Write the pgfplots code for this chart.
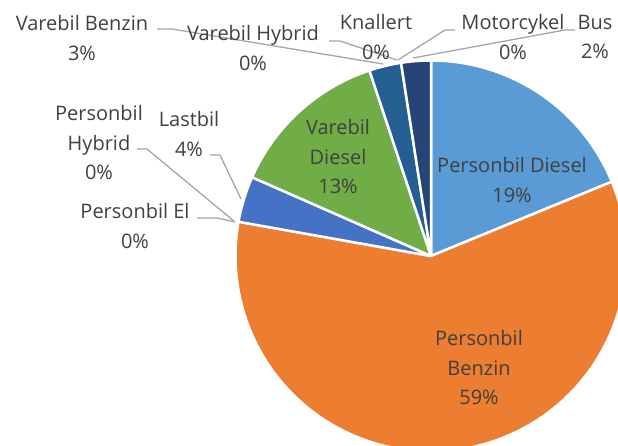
\documentclass[border=0pt]{standalone}
\usepackage{pgfplots}
\usepackage{pgfplotstable}
\pgfplotsset{compat=1.18}
\usepackage{fontspec}
\setmainfont{Open Sans}
\definecolor{cPD}{HTML}{5B9BD5}
\definecolor{cPB}{HTML}{ED7D31}
\definecolor{cPE}{HTML}{A5A5A5}
\definecolor{cPH}{HTML}{FFC000}
\definecolor{cL}{HTML}{4472C4}
\definecolor{cVD}{HTML}{70AD47}
\definecolor{cVB}{HTML}{255E91}
\definecolor{cVH}{HTML}{9E480E}
\definecolor{cK}{HTML}{636363}
\definecolor{cM}{HTML}{997300}
\definecolor{cBus}{HTML}{264478}
\definecolor{txt}{HTML}{404040}
\definecolor{leader}{HTML}{A6A6A6}
\tikzset{lbl/.style={align=center, inner sep=0pt, text=txt,
    font=\fontsize{20}{29.5}\selectfont}}

\pgfplotstableread[col sep=comma]{
label,value,color
Personbil Diesel,18.8,cPD
Personbil Benzin,59.0,cPB
Personbil El,0,cPE
Personbil Hybrid,0,cPH
Lastbil,3.8,cL
Varebil Diesel,13.3,cVD
Varebil Benzin,2.65,cVB
Varebil Hybrid,0,cVH
Knallert,0,cK
Motorcykel,0,cM
Bus,2.45,cBus
}\piedata

\begin{document}
\begin{tikzpicture}
\begin{axis}[
  x=1pt, y=1pt,
  xmin=0, xmax=618, ymin=0, ymax=446,
  hide axis, clip=false,
  anchor=south west, at={(0,0)},
]
\pgfplotsextra{
  \begin{scope}
  \clip (axis cs:0,0) rectangle (axis cs:618,446);
  \gdef\cum{0}
  \foreach \i in {0,...,10}{
    \pgfplotstablegetelem{\i}{value}\of\piedata \let\v\pgfplotsretval
    \pgfplotstablegetelem{\i}{color}\of\piedata \let\col\pgfplotsretval
    \pgfmathsetmacro\a{90-3.6*\cum}
    \pgfmathsetmacro\b{90-3.6*(\cum+\v)}
    \ifdim\v pt>0pt
      \fill[\col, draw=white, line width=2.5pt, line join=round]
        (axis cs:431,190) -- ++(\a:195.5pt)
        arc[start angle=\a, end angle=\b, radius=195.5pt] -- cycle;
    \fi
    \pgfmathparse{\cum+\v}\xdef\cum{\pgfmathresult}
  }
  \end{scope}
}
% leader lines
\addplot[leader, line width=1.3pt, mark=none] coordinates {(157,417) (172,417) (383,382)};
\addplot[leader, line width=1.3pt, mark=none] coordinates {(329,405) (340,405) (397,386)};
\addplot[leader, line width=1.3pt, mark=none] coordinates {(455,416) (445,416) (398,386)};
\addplot[leader, line width=1.3pt, mark=none] coordinates {(575,416) (565,416) (413,388)};
\addplot[leader, line width=1.3pt, mark=none] coordinates {(210,291) (220,291) (241,247)};
\addplot[leader, line width=1.3pt, mark=none] coordinates {(137,297) (147,297) (235,224)};
\addplot[leader, line width=1.3pt, mark=none] coordinates {(197,228) (217,228) (235,224)};
% labels
\node[lbl] at (axis cs:512,266) {Personbil Diesel\\19\%};
\node[lbl] at (axis cs:479,78) {Personbil\\Benzin\\59\%};
\node[lbl] at (axis cs:338,289) {Varebil\\Diesel\\13\%};
\node[lbl] at (axis cs:189,312) {Lastbil\\4\%};
\node[lbl] at (axis cs:99,303) {Personbil\\Hybrid\\0\%};
\node[lbl] at (axis cs:135,220) {Personbil El\\0\%};
\node[lbl] at (axis cs:82,408) {Varebil Benzin\\3\%};
\node[lbl] at (axis cs:253,398) {Varebil Hybrid\\0\%};
\node[lbl] at (axis cs:376,409) {Knallert\\0\%};
\node[lbl] at (axis cs:513,409) {Motorcykel\\0\%};
\node[lbl] at (axis cs:595,409) {Bus\\2\%};
\end{axis}
\pgfresetboundingbox
\path[use as bounding box] (0,0) rectangle (618pt,446pt);
\end{tikzpicture}
\end{document}
